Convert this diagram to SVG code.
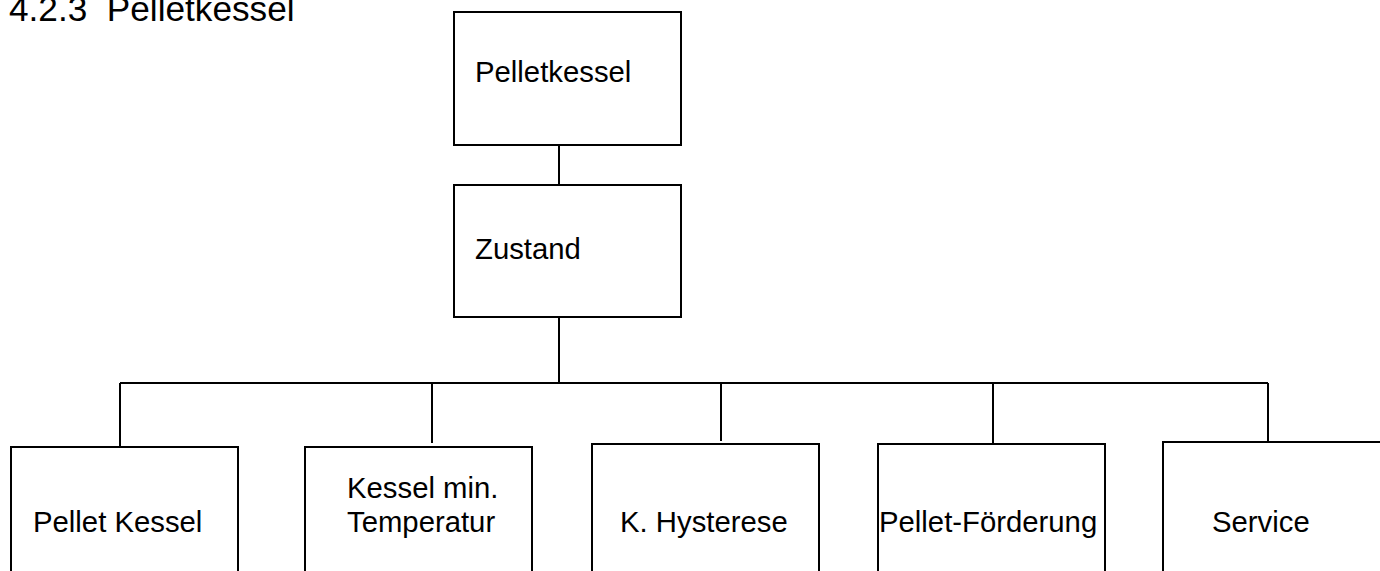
<svg xmlns="http://www.w3.org/2000/svg" width="1380" height="571" viewBox="0 0 1380 571">
<style>
.box{fill:#fff;stroke:#000;stroke-width:2}
.ln{fill:none;stroke:#000;stroke-width:2}
.t{font-family:"Liberation Sans",Arial,sans-serif;font-size:29.3px;fill:#000}
.title{font-family:"Liberation Sans",Arial,sans-serif;font-size:35.2px;fill:#000;white-space:pre}
</style>
<rect width="1380" height="571" fill="#fff"/>
<text class="title" x="9" y="21" xml:space="preserve">4.2.3  Pelletkessel</text>
<g id="connectors">
<path class="ln" d="M559 145V185"/>
<path class="ln" d="M559 314V383"/>
<path class="ln" d="M120 383H1268"/>
<path class="ln" d="M120 383V447"/>
<path class="ln" d="M432 383V443"/>
<path class="ln" d="M721 383V441"/>
<path class="ln" d="M993 383V444"/>
<path class="ln" d="M1268 383V442"/>
</g>
<g id="n-pelletkessel">
<rect class="box" x="454" y="12" width="227" height="133"/>
<text class="t" x="475" y="82">Pelletkessel</text>
</g>
<g id="n-zustand">
<rect class="box" x="454" y="185" width="227" height="132"/>
<text class="t" x="475" y="259">Zustand</text>
</g>
<g id="n-pellet-kessel">
<rect class="box" x="11" y="447" width="227" height="160"/>
<text class="t" x="33" y="532">Pellet Kessel</text>
</g>
<g id="n-kessel-min">
<rect class="box" x="305" y="447" width="227" height="160"/>
<text class="t" x="347" y="498">Kessel min.</text>
<text class="t" x="347" y="532">Temperatur</text>
</g>
<g id="n-hysterese">
<rect class="box" x="592" y="444" width="227" height="160"/>
<text class="t" x="620" y="532">K. Hysterese</text>
</g>
<g id="n-foerderung">
<rect class="box" x="878" y="444" width="227" height="160"/>
<text class="t" x="879" y="532">Pellet-Förderung</text>
</g>
<g id="n-service">
<rect class="box" x="1163" y="442" width="240" height="160"/>
<text class="t" x="1212" y="532">Service</text>
</g>
</svg>
